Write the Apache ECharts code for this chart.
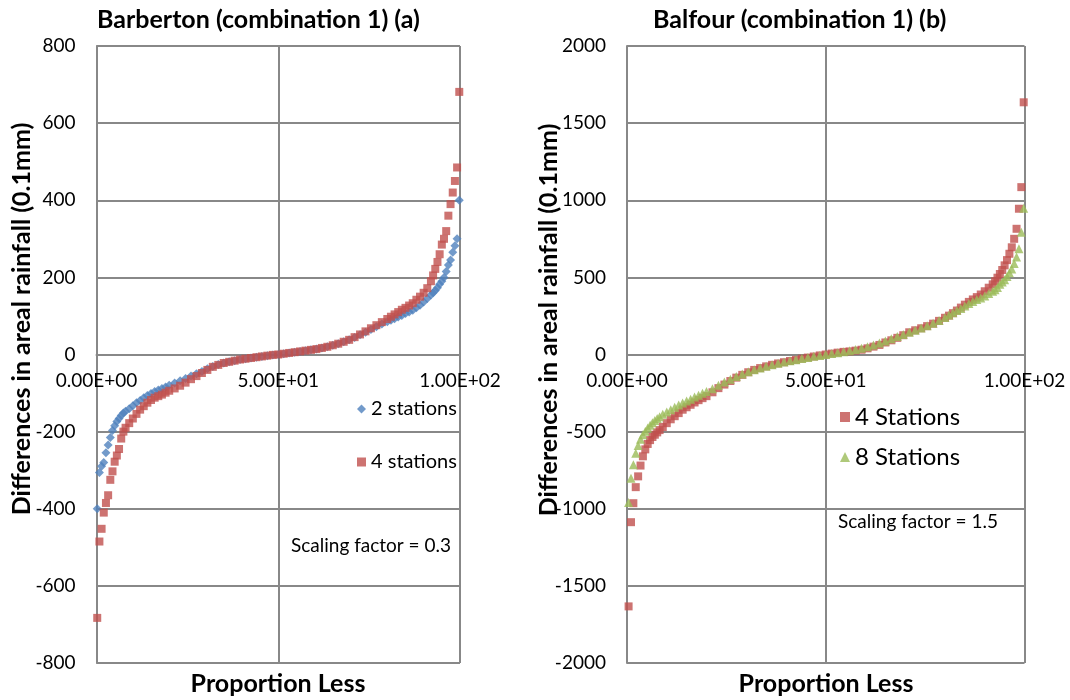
<!DOCTYPE html>
<html>
<head>
<meta charset="utf-8">
<script src="https://cdn.jsdelivr.net/npm/echarts@6/dist/echarts.min.js"></script>
<style>
html,body{margin:0;padding:0;background:#fff;}
#chart{width:1070px;height:700px;}
</style>
</head>
<body>
<div id="chart"></div>
<script>
// ---- Data ----
const titles = ['Barberton (combination 1) (a)', 'Balfour (combination 1) (b)'];
const yTitle = 'Differences in areal rainfall (0.1mm)';
const xTitle = 'Proportion Less';
const scaleNotes = ['Scaling factor = 0.3', 'Scaling factor = 1.5'];

// Left chart (Barberton): proportion less (%)
const propLeft = [0.2,0.8,1.4,2.0,2.6,3.2,3.8,4.4,5.0,5.6,6.2,6.8,7.4,8.0,
  9,10,11,12,13,14,15,16,17,18,19,20,
  21.5,23,24.5,26,27.5,29,30.5,32,33.5,35,36.5,38,39.5,41,42.5,44,45.5,47,48.5,50,
  51.5,53,54.5,56,57.5,59,60.5,62,63.5,65,66.5,68,69.5,71,72.5,74,75.5,77,78.5,80,
  81,82,83,84,85,86,87,88,89,90,91,92,
  92.6,93.2,93.8,94.4,95.0,95.6,96.2,96.8,97.4,98.0,98.6,99.2,99.8];
const barb2Stations = [-400,-306,-290,-280,-255,-235,-215,-197,-185,-174,-166,-158,-152,-147,
  -141,-133,-125,-119,-112,-106,-101,-96,-92,-88,-84,-80,
  -74,-68,-62,-56,-50,-44,-37,-31,-26,-22,-19,-16,-13,-11,-9,-7,-5,-3,-1,0,
  2,4,6,8,10,12,14,17,20,24,28,33,38,44,51,58,65,72,79,85,
  89,93,97,101,106,110,115,121,128,136,145,154,
  160,166,173,182,190,200,215,232,245,265,282,300,400];
const barb4Stations = [-683,-485,-452,-410,-385,-365,-325,-303,-278,-262,-245,-218,-200,-190,
  -178,-166,-154,-143,-134,-125,-118,-112,-108,-104,-99,-94,
  -88,-81,-73,-64,-56,-48,-40,-32,-27,-22,-19,-16,-13,-11,-9,-7,-5,-3,-1,0,
  2,4,6,8,10,12,14,17,20,24,28,33,38,45,52,60,68,76,84,92,
  98,104,110,116,121,127,133,142,150,160,172,190,
  205,222,240,260,285,300,320,360,390,420,450,485,681];

// Right chart (Balfour): proportion less (%)
const propRight = [0.4,1.0,1.6,2.2,2.8,3.4,4.0,4.6,5.2,5.8,6.4,7.0,7.6,8.2,
  9,10,11,12,13,14,15,16,17,18,19,20,
  21.5,23,24.5,26,27.5,29,30.5,32,33.5,35,36.5,38,39.5,41,42.5,44,45.5,47,48.5,50,
  51.5,53,54.5,56,57.5,59,60.5,62,63.5,65,66.5,68,69.5,71,72.5,74,75.5,77,78.5,80,
  81,82,83,84,85,86,87,88,89,90,91,92,
  92.6,93.2,93.8,94.4,95.0,95.6,96.2,96.8,97.4,98.0,98.6,99.2,99.8];
const balf4Stations = [-1633,-1087,-964,-860,-790,-720,-660,-615,-580,-555,-535,-520,-505,-490,
  -470,-445,-420,-400,-380,-358,-342,-326,-311,-296,-283,-270,
  -245,-218,-195,-172,-150,-132,-115,-100,-88,-77,-67,-58,-50,-42,-35,-27,-20,-13,-6,0,
  6,12,17,20,25,31,40,51,62,78,92,108,125,144,157,170,184,200,218,238,
  252,268,285,304,323,341,357,372,389,410,433,455,
  475,498,522,548,578,612,653,695,750,815,945,1085,1635];
const balf8Stations = [-960,-802,-715,-640,-590,-550,-520,-497,-477,-458,-442,-428,-415,-403,
  -388,-372,-358,-342,-328,-314,-302,-290,-276,-264,-252,-240,
  -222,-200,-178,-160,-142,-127,-112,-99,-87,-76,-66,-57,-49,-41,-34,-26,-19,-12,-6,0,
  6,12,18,25,32,40,50,62,75,88,102,116,130,144,158,172,187,202,220,240,
  256,271,285,298,314,330,344,356,366,380,396,410,
  420,435,455,470,485,505,530,555,590,632,686,793,948];

// ---- Chart ----
const FONT = 'Lato, "Open Sans", sans-serif';
const GRID_COLOR = '#888888';
const GRID_H = 617;

function sciFmt(v) {
  if (v === 0) return '0.00E+00';
  const e = Math.floor(Math.log10(Math.abs(v)));
  const m = v / Math.pow(10, e);
  const es = (e < 0 ? '-' : '+') + String(Math.abs(e)).padStart(2, '0');
  return m.toFixed(2) + 'E' + es;
}

const pairs = (xs, ys) => xs.map((x, i) => [x, ys[i]]);

const grids = [
  { left: 96.5, width: 363.5, top: 46, height: GRID_H },
  { left: 627, width: 397.5, top: 46, height: GRID_H }
];

function xAxisFor(gi) {
  return {
    type: 'value', gridIndex: gi, min: 0, max: 100, interval: 50,
    position: 'bottom', offset: -GRID_H / 2,
    axisLine: { show: true, onZero: false, lineStyle: { color: GRID_COLOR, width: 2 } },
    axisTick: { show: false },
    axisLabel: { formatter: sciFmt, color: '#000', fontSize: 19, fontFamily: FONT, margin: 17, showMinLabel: true, showMaxLabel: true },
    splitLine: { show: true, lineStyle: { color: GRID_COLOR, width: 2 } }
  };
}
function yAxisFor(gi, mn, mx, iv) {
  return {
    type: 'value', gridIndex: gi, min: mn, max: mx, interval: iv,
    axisLine: { show: true, onZero: false, lineStyle: { color: GRID_COLOR, width: 2 } },
    axisTick: { show: false },
    axisLabel: { formatter: v => String(v), color: '#000', fontSize: 19, fontFamily: FONT, margin: 21 },
    splitLine: { show: true, lineStyle: { color: GRID_COLOR, width: 2 } }
  };
}

const option = {
  backgroundColor: '#fff',
  animation: false,
  grid: grids,
  xAxis: [xAxisFor(0), xAxisFor(1)],
  yAxis: [yAxisFor(0, -800, 800, 200), yAxisFor(1, -2000, 2000, 500)],
  legend: [
    {
      data: ['2 stations', '4 stations'], orient: 'vertical', left: 352, top: 394,
      itemGap: 33, itemWidth: 9, itemHeight: 9, selectedMode: false,
      textStyle: { fontSize: 20, fontFamily: FONT, color: '#000' }
    },
    {
      data: ['4 Stations', '8 Stations'], orient: 'vertical', left: 835, top: 400,
      itemGap: 16, itemWidth: 10, itemHeight: 10, selectedMode: false,
      textStyle: { fontSize: 24, fontFamily: FONT, color: '#000' }
    }
  ],
  graphic: [
    { type: 'text', x: 97, y: 20, style: { text: titles[0], font: 'bold 25px ' + FONT, fill: '#000', verticalAlign: 'middle' } },
    { type: 'text', x: 653, y: 20, style: { text: titles[1], font: 'bold 25px ' + FONT, fill: '#000', verticalAlign: 'middle' } },
    { type: 'text', x: 22, y: 319, rotation: Math.PI / 2, style: { text: yTitle, font: 'bold 25px ' + FONT, fill: '#000', align: 'center', verticalAlign: 'middle' } },
    { type: 'text', x: 549, y: 320, rotation: Math.PI / 2, style: { text: yTitle, font: 'bold 25px ' + FONT, fill: '#000', align: 'center', verticalAlign: 'middle' } },
    { type: 'text', x: 278, y: 684, style: { text: xTitle, font: 'bold 25px ' + FONT, fill: '#000', align: 'center', verticalAlign: 'middle' } },
    { type: 'text', x: 826, y: 684, style: { text: xTitle, font: 'bold 25px ' + FONT, fill: '#000', align: 'center', verticalAlign: 'middle' } },
    { type: 'text', x: 291, y: 546, style: { text: scaleNotes[0], font: '19px ' + FONT, fill: '#000', verticalAlign: 'middle' } },
    { type: 'text', x: 838, y: 522, style: { text: scaleNotes[1], font: '19px ' + FONT, fill: '#000', verticalAlign: 'middle' } }
  ],
  series: [
    { name: '2 stations', type: 'scatter', xAxisIndex: 0, yAxisIndex: 0, symbol: 'diamond', symbolSize: 9,
      itemStyle: { color: '#4F81BD' }, data: pairs(propLeft, barb2Stations) },
    { name: '4 stations', type: 'scatter', xAxisIndex: 0, yAxisIndex: 0, symbol: 'rect', symbolSize: 8,
      itemStyle: { color: '#C0504D' }, data: pairs(propLeft, barb4Stations) },
    { name: '4 Stations', type: 'scatter', xAxisIndex: 1, yAxisIndex: 1, symbol: 'rect', symbolSize: 8,
      itemStyle: { color: '#C0504D' }, data: pairs(propRight, balf4Stations) },
    { name: '8 Stations', type: 'scatter', xAxisIndex: 1, yAxisIndex: 1, symbol: 'triangle', symbolSize: 9,
      itemStyle: { color: '#9BBB59' }, data: pairs(propRight, balf8Stations) }
  ]
};

const chart = echarts.init(document.getElementById('chart'), null, { renderer: 'canvas' });
chart.setOption(option);
</script>
</body>
</html>
